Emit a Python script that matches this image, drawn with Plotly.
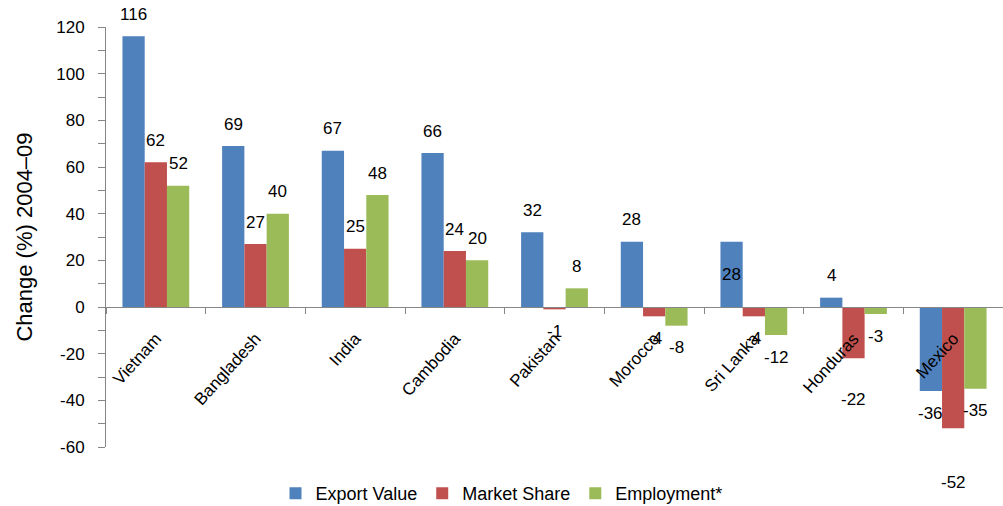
import plotly.graph_objects as go

countries = ["Vietnam", "Bangladesh", "India", "Cambodia", "Pakistan", "Morocco", "Sri Lanka", "Honduras", "Mexico"]
export_value = [116, 69, 67, 66, 32, 28, 28, 4, -36]
market_share = [62, 27, 25, 24, -1, -4, -4, -22, -52]
employment = [52, 40, 48, 20, 8, -8, -12, -3, -35]
y_ticks = [-60, -40, -20, 0, 20, 40, 60, 80, 100, 120]

font = "Liberation Sans, Arial, sans-serif"
series = [
    ("Export Value", export_value, "#4F81BD"),
    ("Market Share", market_share, "#C0504D"),
    ("Employment*", employment, "#9BBB59"),
]
# label placement tweaks seen in the reference (pixels)
label_inside = {("Export Value", "Sri Lanka")}
label_extra_drop = {("Market Share", "Honduras"): 19, ("Market Share", "Mexico"): 32}

W, H = 1003, 506
ML, MR, MT, MB = 106, 0, 27, 59
BARGAP = 0.33
cat_px = (W - ML - MR) / len(countries)
bar_px = cat_px * (1 - BARGAP) / len(series)

fig = go.Figure()
annotations = []
for si, (name, vals, col) in enumerate(series):
    fig.add_trace(go.Bar(
        x=countries, y=vals, name=name, marker=dict(color=col, line=dict(width=0)),
        cliponaxis=False,
    ))
    for ci, v in enumerate(vals):
        key = (name, countries[ci])
        inside = key in label_inside
        if inside:
            ys = 0
        elif v >= 0:
            ys = 22
        else:
            ys = -22 - label_extra_drop.get(key, 0)
        annotations.append(dict(
            x=countries[ci], y=(v / 2 if inside else v), xref="x", yref="y",
            text=str(v), showarrow=False,
            xshift=(si - 1) * bar_px, yshift=ys,
            xanchor="center", yanchor="middle",
            font=dict(family=font, size=17, color="#000000"),
        ))

ymin, ymax = y_ticks[0], y_ticks[-1]
fig.update_layout(
    width=W, height=H,
    margin=dict(l=ML, r=MR, t=MT, b=MB, autoexpand=False),
    paper_bgcolor="white", plot_bgcolor="white",
    barmode="group", bargap=BARGAP, bargroupgap=0,
    font=dict(family=font, size=17, color="#000000"),
    legend=dict(orientation="h", xref="container", x=0.5, xanchor="center",
                y=-0.067, yanchor="top",
                font=dict(family=font, size=18), itemwidth=30, traceorder="normal"),
    showlegend=True,
    annotations=annotations,
    yaxis=dict(
        range=[ymin, ymax], tickvals=y_ticks, ticktext=[str(t) for t in y_ticks],
        ticks="outside", ticklen=7, tickcolor="#868686",
        showline=True, linecolor="#868686", linewidth=1, showgrid=False, zeroline=False,
        minor=dict(dtick=10, ticks="outside", ticklen=7, tickcolor="#868686", showgrid=False),
        tickfont=dict(family=font, size=17), ticklabelstandoff=10,
        title=dict(text="Change (%) 2004–09", font=dict(family=font, size=22), standoff=17),
        domain=[0, 1], automargin=False,
    ),
    yaxis2=dict(overlaying="y", side="left", anchor="x", range=[ymin, ymax],
                tickvals=y_ticks, showticklabels=False, ticks="inside", ticklen=6,
                tickcolor="#868686", showline=False, showgrid=False, zeroline=False,
                minor=dict(dtick=10, ticks="inside", ticklen=6, tickcolor="#868686", showgrid=False)),
    xaxis=dict(
        anchor="free", position=(0 - ymin) / (ymax - ymin),
        showline=True, linecolor="#868686", linewidth=1,
        ticks="outside", tickson="boundaries", ticklen=6, tickcolor="#868686",
        tickangle=-48, tickfont=dict(family=font, size=17), ticklabelstandoff=14,
        showgrid=False, zeroline=False, automargin=False,
    ),
)
# remove the browser's default 8px body margin so the figure fills the window exactly
fig.write_html("out.html", config={"displayModeBar": False},
               post_script="document.body.style.margin='0';document.body.style.overflow='hidden';")
